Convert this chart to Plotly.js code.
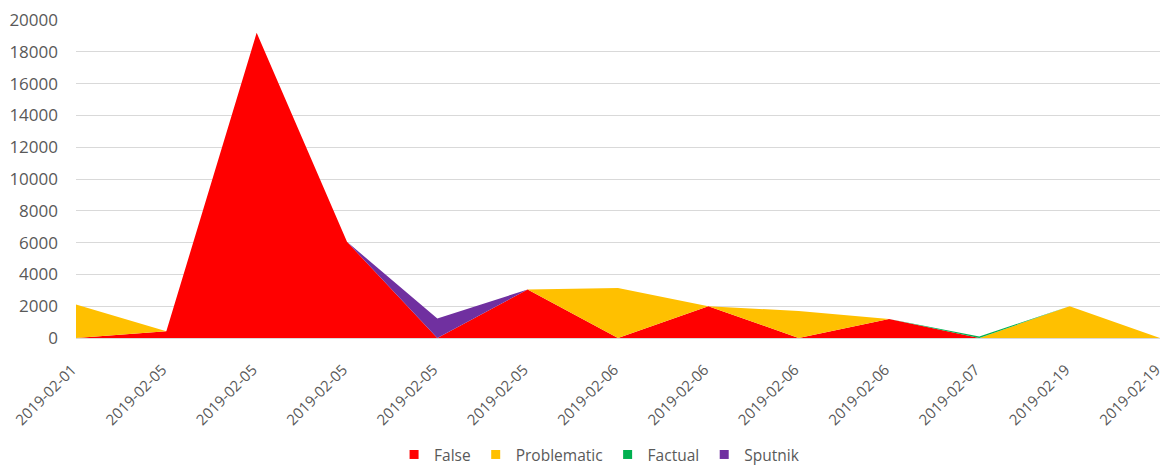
<!DOCTYPE html>
<html>
<head>
<meta charset="utf-8">
<script src="https://cdn.plot.ly/plotly-3.0.1.min.js"></script>
<style>html,body{margin:0;padding:0;background:#fff;}#chart{width:1166px;height:468px;}</style>
</head>
<body>
<div id="chart"></div>
<script>
const dates = ["2019-02-01","2019-02-05","2019-02-05","2019-02-05","2019-02-05","2019-02-05","2019-02-06","2019-02-06","2019-02-06","2019-02-06","2019-02-07","2019-02-19","2019-02-19"];
const falseVals       = [0, 420, 19200, 6050, 0, 3050, 0, 2000, 0, 1200, 0, 0, 0];
const problematicVals = [2100, 0, 0, 0, 0, 0, 3150, 0, 1700, 0, 0, 2000, 0];
const factualVals     = [0, 0, 0, 0, 0, 0, 0, 0, 0, 0, 100, 0, 0];
const sputnikVals     = [0, 0, 0, 0, 1220, 0, 0, 0, 0, 0, 0, 0, 0];

const seriesNames  = ["False","Problematic","Factual","Sputnik"];
const seriesValues = [falseVals, problematicVals, factualVals, sputnikVals];
const seriesColors = ["#ff0000","#ffc000","#00b050","#7030a0"];

const idx = dates.map((d,i)=>i);
const traces = [];
seriesNames.forEach((n,k)=>{
  traces.push({
    type:'scatter', mode:'lines', x: idx, y: seriesValues[k], name:n,
    stackgroup:'one', line:{width:0, color:seriesColors[k]}, fillcolor:seriesColors[k],
    showlegend:false, hoverinfo:'x+y+name'
  });
});
seriesNames.forEach((n,k)=>{
  traces.push({
    type:'scatter', mode:'markers', x:[null], y:[null], name:n,
    marker:{symbol:'square', size:9, color:seriesColors[k]}, showlegend:true
  });
});

const layout = {
  width:1166, height:468,
  margin:{l:76, r:6, t:20, b:130, autoexpand:false},
  paper_bgcolor:'#fff', plot_bgcolor:'#fff',
  font:{family:'"Open Sans", "Liberation Sans", sans-serif', size:15, color:'#595959'},
  xaxis:{
    automargin:false,
    range:[0,12.0005], tickmode:'array', tickvals:idx, ticktext:dates, tickangle:-45,
    showgrid:false, zeroline:false, showline:true, linecolor:'#d9d9d9', linewidth:1,
    ticks:'', ticklabelstandoff:16, ticklabelshift:-4, ticklabeloverflow:'allow',
    tickfont:{size:15, color:'#595959'}, fixedrange:true
  },
  yaxis:{
    automargin:false,
    range:[0,20000], tickmode:'linear', tick0:0, dtick:2000, tickformat:'d', showgrid:true,
    gridcolor:'#d9d9d9', gridwidth:1, zeroline:false, showline:false,
    ticks:'', ticklabelstandoff:17, tickfont:{size:17, color:'#595959'}, fixedrange:true
  },
  legend:{orientation:'h', traceorder:'normal', x:0.483, xanchor:'center',
    yref:'container', y:0.028, yanchor:'middle',
    font:{size:15.5, color:'#595959'}, itemwidth:30, tracegroupgap:0},
  showlegend:true
};
Plotly.newPlot('chart', traces, layout, {displayModeBar:false, staticPlot:true});
</script>
</body>
</html>
